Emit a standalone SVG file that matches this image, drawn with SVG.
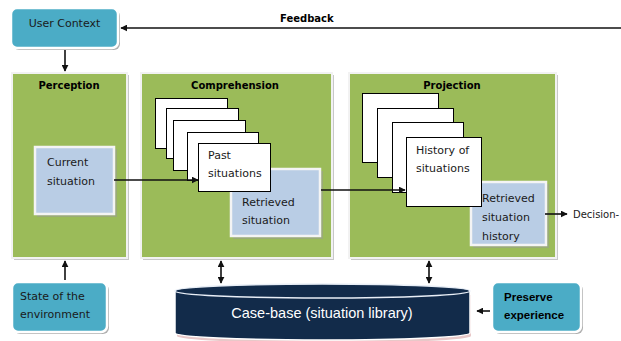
<svg xmlns="http://www.w3.org/2000/svg" width="621" height="341" viewBox="0 0 621 341">
<defs>
<style>
.panel{fill:#9bbb59;stroke:#f2f2f2;stroke-width:2}
.pshadow{fill:#c8c8c8}
.blue{fill:#b9cde5;stroke:#f4f4f4;stroke-width:2.5}
.bshadow{fill:#9a9a9a;opacity:0.5}
.teal{fill:#4bacc6;stroke:#ffffff;stroke-width:2.5}
.tshadow{fill:#b0b0b0}
.card{fill:#ffffff;stroke:#000000;stroke-width:1}
.t{font-family:"DejaVu Sans",Verdana,sans-serif;font-size:11px;fill:#1a1a1a}
.h{font-family:"DejaVu Sans",Verdana,sans-serif;font-size:10px;font-weight:bold;fill:#000000}
.c{font-family:"Liberation Sans",Arial,sans-serif;font-weight:bold;font-size:11.5px;fill:#000000}
.line{stroke:#111111;stroke-width:1.6;fill:none}
</style>
<marker id="ah" viewBox="0 0 10 10" refX="9" refY="5" markerWidth="7" markerHeight="7" markerUnits="userSpaceOnUse" orient="auto-start-reverse">
<path d="M0,0 L10,5 L0,10 z" fill="#111111"/>
</marker>
</defs>
<rect width="621" height="341" fill="#ffffff"/>

<g id="user-context">
<rect x="13" y="10" width="107" height="40" rx="6" class="tshadow"/>
<rect x="11" y="8" width="107" height="40" rx="6" class="teal"/>
<text x="64.5" y="27" class="t" text-anchor="middle">User Context</text>
</g>

<text x="280" y="22" class="h">Feedback</text>

<g id="perception">
<rect x="14" y="75" width="115" height="185" class="pshadow"/>
<rect x="12" y="73" width="115" height="185" class="panel"/>
<text x="69" y="89" class="h" text-anchor="middle">Perception</text>
</g>

<g id="current-situation">
<rect x="37" y="149" width="80" height="68" class="bshadow"/>
<rect x="35" y="147" width="79" height="67" class="blue"/>
<text x="47" y="166" class="t">Current</text>
<text x="47" y="185" class="t">situation</text>
</g>

<g id="comprehension">
<rect x="143" y="75" width="191" height="185" class="pshadow"/>
<rect x="141" y="73" width="191" height="185" class="panel"/>
<text x="235" y="89" class="h" text-anchor="middle">Comprehension</text>
</g>

<g id="retrieved-situation">
<rect x="233" y="171" width="90" height="68" class="bshadow"/>
<rect x="231" y="169" width="89" height="67" class="blue"/>
<text x="242" y="206" class="t">Retrieved</text>
<text x="242" y="224" class="t">situation</text>
</g>

<g id="past-situations">
<rect x="155.5" y="98.5" width="72" height="50" class="card"/>
<rect x="166.5" y="108.5" width="72" height="50" class="card"/>
<rect x="173.5" y="120.5" width="72" height="50" class="card"/>
<rect x="187.5" y="132.5" width="71" height="48" class="card"/>
<rect x="198.5" y="143.5" width="72" height="48" class="card"/>
<text x="208" y="159" class="t">Past</text>
<text x="208" y="177" class="t">situations</text>
</g>

<g id="projection">
<rect x="351" y="75" width="207" height="185" class="pshadow"/>
<rect x="349" y="73" width="207" height="185" class="panel"/>
<text x="452" y="89" class="h" text-anchor="middle">Projection</text>
</g>

<g id="retrieved-situation-history">
<rect x="473" y="184" width="76" height="64" class="bshadow"/>
<rect x="471" y="182" width="75" height="63" class="blue"/>
<text x="482" y="202" class="t">Retrieved</text>
<text x="482" y="221" class="t">situation</text>
<text x="482" y="240" class="t">history</text>
</g>

<g id="history-of-situations">
<rect x="362.5" y="93.5" width="76" height="69" class="card"/>
<rect x="377.5" y="108.5" width="76" height="69" class="card"/>
<rect x="392.5" y="122.5" width="71" height="70" class="card"/>
<rect x="406.5" y="137.5" width="75" height="69" class="card"/>
<text x="416" y="154" class="t">History of</text>
<text x="416" y="172" class="t">situations</text>
</g>

<text x="573" y="218" class="t" style="font-size:10px">Decision-</text>

<g id="state-of-environment">
<rect x="14" y="284" width="95" height="50" rx="6" class="tshadow"/>
<rect x="12" y="282" width="95" height="50" rx="6" class="teal"/>
<text x="20" y="300" class="t">State of the</text>
<text x="20" y="318" class="t">environment</text>
</g>

<g id="case-base">
<path d="M176,292 L176,333 A147,7 0 0 0 470,333 L470,292 Z" fill="#e8c8c8" transform="translate(1,3)"/>
<path d="M175,291 L175,333 A147.5,7 0 0 0 470,333 L470,291 Z" fill="#122b4a" stroke="#ffffff" stroke-width="1.5"/>
<ellipse cx="322.5" cy="291" rx="147.5" ry="7" fill="#122b4a" stroke="#e8eef6" stroke-width="1.5"/>
<text x="322" y="318" text-anchor="middle" style="font-family:'Liberation Sans',Arial,sans-serif;font-size:14.5px;fill:#ffffff">Case-base (situation library)</text>
</g>

<g id="preserve-experience">
<rect x="494" y="284" width="89" height="50" rx="6" class="tshadow"/>
<rect x="492" y="282" width="89" height="50" rx="6" class="teal"/>
<text x="504" y="301" class="c">Preserve</text>
<text x="504" y="319" class="c">experience</text>
</g>

<g id="connectors">
<line x1="621" y1="28" x2="121" y2="28" class="line" marker-end="url(#ah)"/>
<line x1="65" y1="50" x2="65" y2="71" class="line" marker-end="url(#ah)"/>
<line x1="114" y1="180" x2="198" y2="180" class="line" marker-end="url(#ah)"/>
<line x1="321" y1="190" x2="405" y2="190" class="line" marker-end="url(#ah)"/>
<line x1="545" y1="214" x2="567" y2="214" class="line" marker-end="url(#ah)"/>
<line x1="65" y1="280" x2="65" y2="261" class="line" marker-end="url(#ah)"/>
<line x1="221" y1="261" x2="221" y2="283" class="line" marker-start="url(#ah)" marker-end="url(#ah)"/>
<line x1="429" y1="261" x2="429" y2="283" class="line" marker-start="url(#ah)" marker-end="url(#ah)"/>
<line x1="490" y1="311" x2="477" y2="311" class="line" marker-end="url(#ah)"/>
</g>
</svg>
